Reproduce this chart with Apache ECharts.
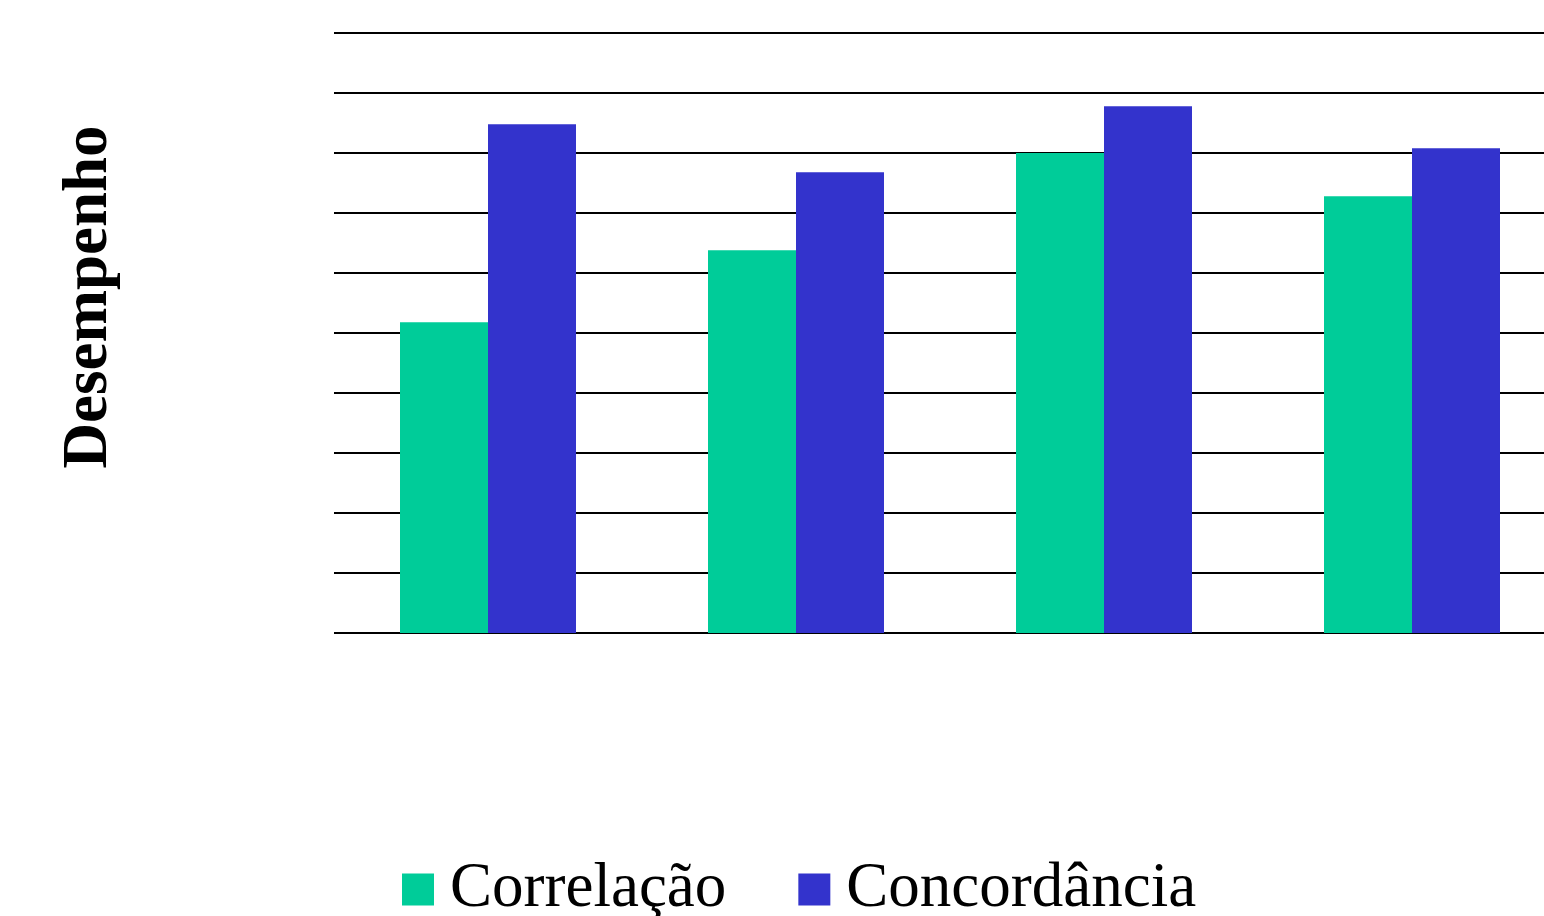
<!DOCTYPE html>
<html>
<head>
<meta charset="utf-8">
<script src="https://cdn.jsdelivr.net/npm/echarts@6/dist/echarts.min.js"></script>
<style>
  html, body { margin: 0; padding: 0; background: #ffffff; overflow: hidden; }
  /* the canvas is a little wider than the window, so the plot runs off the right edge */
  #chart { width: 1566px; height: 916px; }
</style>
</head>
<body>
<div id="chart"></div>
<script>
// Four test groups, two measures each
const categories = ['1', '2', '3', '4'];
const correlacao = [0.518, 0.638, 0.800, 0.728];
const concordancia = [0.848, 0.768, 0.878, 0.808];
const seriesNames = ['Correlação', 'Concordância'];
const yTicks = { min: 0, max: 1, interval: 0.1 };

const serif = '"Liberation Serif", "Times New Roman", serif';

const chart = echarts.init(document.getElementById('chart'), null, { renderer: 'canvas' });

chart.setOption({
  backgroundColor: '#ffffff',
  animation: false,
  color: ['#00CC99', '#3333CC'],
  grid: { left: 334, top: 33, right: 0, bottom: 283, containLabel: false },
  legend: {
    data: seriesNames,
    left: 402,
    top: 858,
    padding: 0,
    icon: 'rect',
    itemWidth: 32,
    itemHeight: 32,
    itemGap: 72,
    textStyle: {
      fontFamily: serif,
      fontSize: 63,
      color: '#000000',
      padding: [0, 0, 0, 11]
    }
  },
  graphic: [{
    type: 'text',
    x: 90,
    y: 297,
    rotation: Math.PI / 2,
    style: {
      text: 'Desempenho',
      fontFamily: serif,
      fontWeight: 'bold',
      fontSize: 63,
      fill: '#000000',
      align: 'center',
      verticalAlign: 'middle'
    }
  }],
  xAxis: {
    type: 'category',
    data: categories,
    axisLine: { show: false },
    axisTick: { show: false },
    axisLabel: { show: false }
  },
  yAxis: {
    type: 'value',
    min: yTicks.min,
    max: yTicks.max,
    interval: yTicks.interval,
    axisLine: { show: false },
    axisTick: { show: false },
    axisLabel: { show: false },
    splitLine: { show: true, lineStyle: { color: '#000000', width: 2 } }
  },
  series: [
    { name: seriesNames[0], type: 'bar', data: correlacao, barWidth: 88, barGap: '0%' },
    { name: seriesNames[1], type: 'bar', data: concordancia, barWidth: 88, barGap: '0%' }
  ]
});
</script>
</body>
</html>
